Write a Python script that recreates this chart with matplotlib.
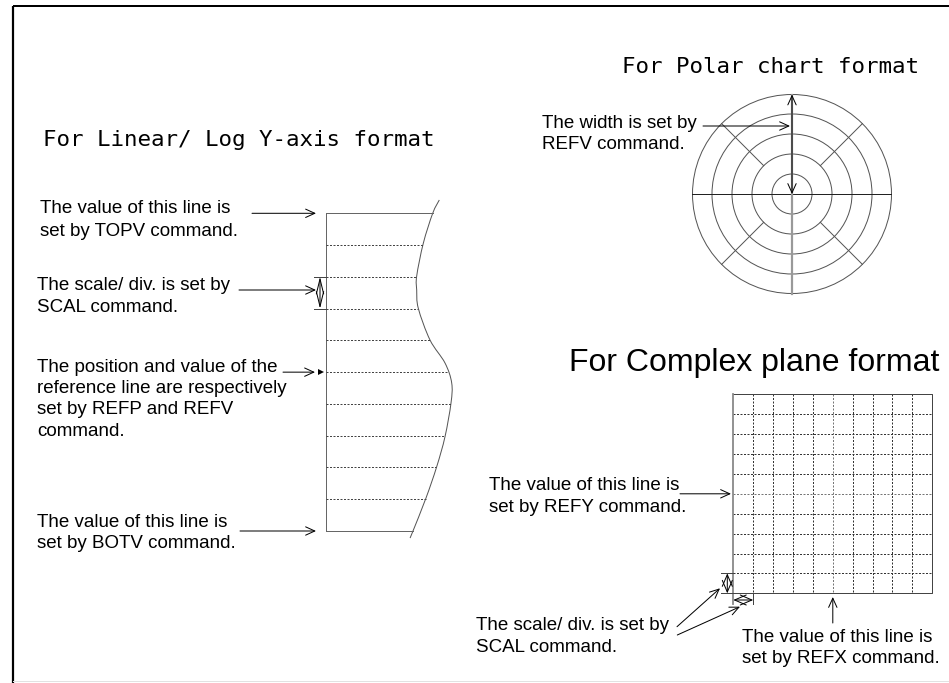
import numpy as np
import matplotlib
matplotlib.use('Agg')
import matplotlib.pyplot as plt
from matplotlib.patches import Circle, PathPatch
from matplotlib.path import Path

W, H = 949, 683
PX = 0.72  # one pixel in points at dpi 100

# ---- text ----
title_linear = 'For Linear/ Log Y-axis format'
title_polar = 'For Polar chart format'
title_complex = 'For Complex plane format'
txt_topv = ['The value of this line is', 'set by TOPV command.']
txt_scal = ['The scale/ div. is set by', 'SCAL command.']
txt_refp = ['The position and value of the', 'reference line are respectively',
            'set by REFP and REFV', 'command.']
txt_botv = ['The value of this line is', 'set by BOTV command.']
txt_refv = ['The width is set by', 'REFV command.']
txt_refy = ['The value of this line is', 'set by REFY command.']
txt_refx = ['The value of this line is', 'set by REFX command.']

# ---- linear / log diagram ----
lin_left = 326
lin_top, lin_bottom = 213.3, 531.0
lin_divs = 10
# right edge curve
curve_x = [439.3, 432.7, 423.3, 416.7, 416.7, 418.3, 430.0, 445.0, 451.7, 451.0, 445.0, 436.7, 426.0, 412.7, 410.0]
curve_y = [200.0, 213.3, 243.3, 276.0, 290.0, 308.3, 340.0, 363.0, 383.0, 403.0, 436.7, 466.7, 498.0, 531.7, 538.0]

# ---- polar diagram ----
pol_cx, pol_cy = 792, 194
pol_radii = [20, 40, 60, 80, 99.5]
pol_spoke_angles = [45, 135, 225, 315]
pol_spoke_inner = 40

# ---- complex plane diagram ----
cpx_left, cpx_top, cpx_size = 733.3, 394.3, 199.0
cpx_divs = 10
cpx_ref_index = 5

fig = plt.figure(figsize=(W / 100, H / 100), dpi=100)
ax = fig.add_axes([0, 0, 1, 1])
ax.set_xlim(0, W)
ax.set_ylim(H, 0)
ax.axis('off')

body = dict(family='Liberation Sans', fontsize=13.5, color='black', va='baseline', ha='left')
mono = dict(family='DejaVu Sans Mono', fontsize=16.2, color='black', va='baseline', ha='left')


def lines(x, y0, rows, step=22):
    for i, r in enumerate(rows):
        ax.text(x, y0 + i * step, r, **body)


def arrow(x0, y0, x1, y1, style='->,head_length=0.55,head_width=0.25', ms=12):
    ax.annotate('', xy=(x1, y1), xytext=(x0, y0),
                arrowprops=dict(arrowstyle=style, lw=PX, color='black',
                                shrinkA=0, shrinkB=0, mutation_scale=ms))


def smooth_path(xs, ys):
    # bezier segments through the read points (catmull-rom style handles)
    p = np.column_stack([xs, ys])
    verts = [p[0]]
    codes = [Path.MOVETO]
    n = len(p)
    for i in range(n - 1):
        p0 = p[max(i - 1, 0)]
        p3 = p[min(i + 2, n - 1)]
        c1 = p[i] + (p[i + 1] - p0) / 6
        c2 = p[i + 1] - (p3 - p[i]) / 6
        verts += [c1, c2, p[i + 1]]
        codes += [Path.CURVE4] * 3
    return Path(verts, codes)


# frame
ax.plot([13, W], [6, 6], color='black', lw=2 * PX, solid_capstyle='butt')
ax.plot([13, 13], [6, H], color='black', lw=2.2 * PX, solid_capstyle='butt')
ax.plot([13, W], [681, 681], color='#e2e2e2', lw=PX)

# ---------- Linear / Log ----------
ax.text(42.7, 146, title_linear, **mono)
step = (lin_bottom - lin_top) / lin_divs
ax.plot([lin_left, lin_left], [lin_top, lin_bottom], color='#666666', lw=PX)
ax.add_patch(PathPatch(smooth_path(curve_x, curve_y), fill=False, ec='#555555', lw=PX))
for i in range(lin_divs + 1):
    y = lin_top + i * step
    xe = np.interp(y, curve_y, curve_x)
    if i in (0, lin_divs):
        ax.plot([lin_left, xe], [y, y], color='#666666', lw=PX)
    else:
        ax.plot([lin_left, xe], [y, y], color='#444444', lw=PX, ls=(0, (2, 1.5)))

lines(40, 213.3, txt_topv, 22.7)
arrow(252, 213.3, 316, 213.3)

lines(37.3, 290, txt_scal, 21.7)
arrow(239, 290, 316, 290)
y_a, y_b = lin_top + 2 * step, lin_top + 3 * step
for y in (y_a, y_b):
    ax.plot([314, lin_left], [y, y], color='#444444', lw=PX)
arrow(320, y_a, 320, y_b, style='<->,head_length=0.9,head_width=0.22', ms=12)

y_ref = lin_top + 5 * step
lines(37.3, 371.7, txt_refp, 21.3)
arrow(283, y_ref, 315, y_ref)
ax.plot(321.5, y_ref, marker='>', ms=4.2, color='black', mew=0)

lines(37.3, 526.7, txt_botv, 21.7)
arrow(240, lin_bottom, 316, lin_bottom)

# ---------- Polar ----------
ax.text(622, 73.3, title_polar, **mono)
for r in pol_radii:
    ax.add_patch(Circle((pol_cx, pol_cy), r, fill=False, ec='#555555', lw=PX))
R = pol_radii[-1]
for a in pol_spoke_angles:
    c, s = np.cos(np.radians(a)), np.sin(np.radians(a))
    ax.plot([pol_cx + pol_spoke_inner * c, pol_cx + R * c],
            [pol_cy + pol_spoke_inner * s, pol_cy + R * s], color='#555555', lw=PX)
ax.plot([pol_cx - R, pol_cx + R], [pol_cy, pol_cy], color='#222222', lw=PX)
ax.plot([pol_cx, pol_cx], [pol_cy - R, pol_cy + R], color='#999999', lw=2.2 * PX)
arrow(pol_cx, pol_cy, pol_cx, pol_cy - R, style='<->,head_length=0.55,head_width=0.25')
lines(542.5, 127.5, txt_refv, 21.5)
arrow(703, 126, 790, 126)

# ---------- Complex plane ----------
ax.text(569, 371, title_complex, family='Liberation Sans', fontsize=23, color='black',
        va='baseline', ha='left')
cs = cpx_size / cpx_divs
cpx_right, cpx_bottom = cpx_left + cpx_size, cpx_top + cpx_size
for i in range(1, cpx_divs):
    col = '#777777' if i == cpx_ref_index else '#333333'
    ax.plot([cpx_left + i * cs] * 2, [cpx_top, cpx_bottom], color=col, lw=PX, ls=(0, (2, 1.5)))
    ax.plot([cpx_left, cpx_right], [cpx_top + i * cs] * 2, color=col, lw=PX, ls=(0, (2, 1.5)))
ax.plot([cpx_left, cpx_right, cpx_right, cpx_left],
        [cpx_top, cpx_top, cpx_bottom, cpx_bottom], color='#444444', lw=PX)
ax.plot([cpx_left, cpx_left], [cpx_top, cpx_bottom + 11], color='#888888', lw=1.8 * PX)

lines(489.3, 490, txt_refy, 22.3)
arrow(680, cpx_top + cpx_ref_index * cs, 731, cpx_top + cpx_ref_index * cs)

lines(741.7, 641.7, txt_refx, 21.7)
arrow(cpx_left + cpx_ref_index * cs, 623, cpx_left + cpx_ref_index * cs, 597)

# scale/div markers
for y in (cpx_bottom - cs, cpx_bottom):
    ax.plot([721.5, cpx_left], [y, y], color='#444444', lw=PX)
arrow(727.3, cpx_bottom - cs, 727.3, cpx_bottom, style='<->,head_length=0.7,head_width=0.3', ms=12)
ax.plot([cpx_left + cs] * 2, [cpx_bottom, cpx_bottom + 11], color='#444444', lw=PX)
arrow(cpx_left, 600, cpx_left + cs, 600, style='<->,head_length=0.7,head_width=0.3', ms=12)

lines(476, 630, txt_scal, 21.7)
arrow(677, 626.7, 720, 588.3)
arrow(677.3, 635, 740, 606.7)

fig.savefig('out.png', dpi=100)
